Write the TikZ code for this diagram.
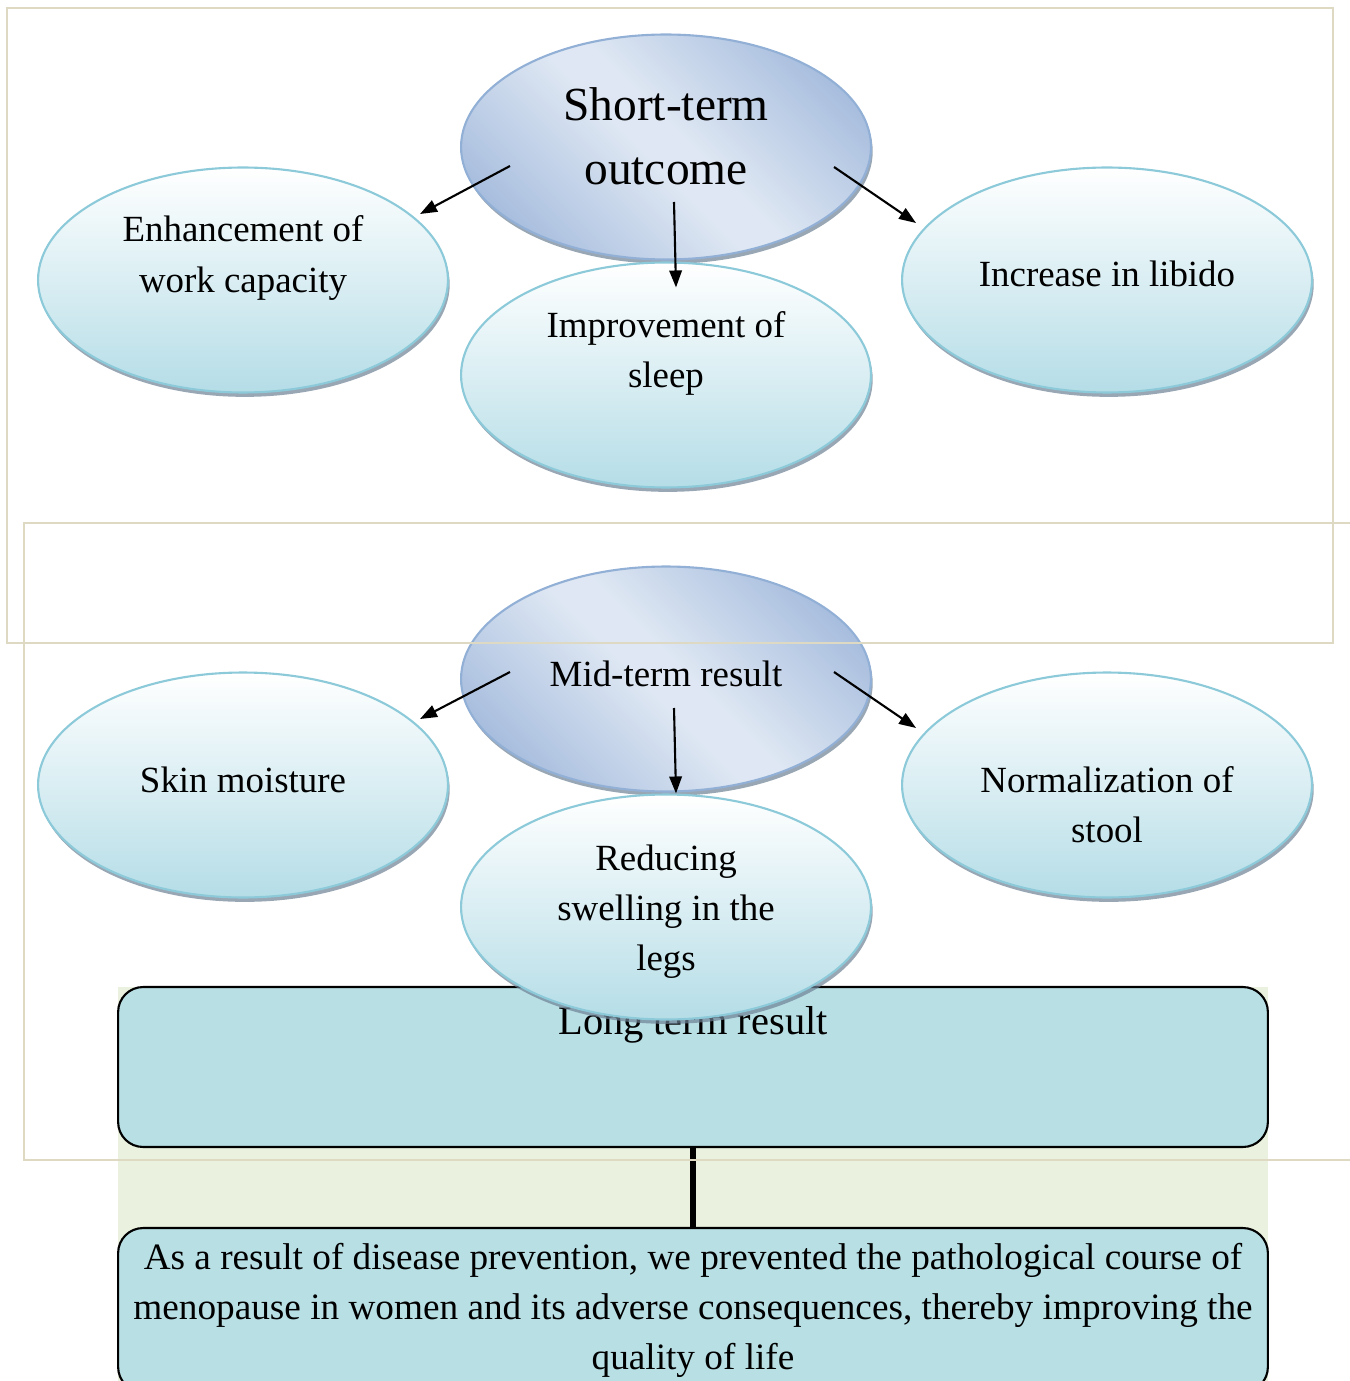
\documentclass[tikz,border=0pt]{standalone}
\usepackage{fontspec}
\setmainfont{Liberation Serif}
\usepackage{xcolor}
\usetikzlibrary{shapes.geometric,arrows.meta,shadows}
\definecolor{frameline}{RGB}{221,217,195}
\definecolor{lightgreen}{RGB}{234,241,222}
\definecolor{boxfill}{RGB}{184,223,228}
\definecolor{outdark}{RGB}{163,186,220}
\definecolor{outlight}{RGB}{222,231,243}
\definecolor{outline}{RGB}{146,176,214}
\definecolor{effectfill}{RGB}{181,221,231}
\definecolor{effectline}{RGB}{140,202,218}
\definecolor{shadowc}{RGB}{110,130,150}
\pgfdeclarehorizontalshading{outcomeshade}{100bp}{color(0bp)=(outdark); color(22bp)=(outdark); color(47bp)=(outlight); color(53bp)=(outlight); color(78bp)=(outdark); color(100bp)=(outdark)}
\tikzstyle{arrow} = [
    line width=1.2pt,
    -{Triangle[length=3.4mm,width=2.5mm]},
    draw=black
]
\tikzstyle{outcome} = [
    ellipse,
    minimum width=8.2cm,
    minimum height=4.5cm,
    draw=outline,
    line width=1.2pt,
    shading=outcomeshade,
    shading angle=45,
    drop shadow={shadow xshift=1pt, shadow yshift=-2.5pt, fill=shadowc, opacity=0.7}
]
\tikzstyle{effect} = [
    ellipse,
    minimum width=8.2cm,
    minimum height=4.5cm,
    draw=effectline,
    line width=1.2pt,
    top color=white,
    bottom color=effectfill,
    drop shadow={shadow xshift=1pt, shadow yshift=-2.5pt, fill=shadowc, opacity=0.7}
]
\tikzstyle{resultbox} = [
    rectangle,
    rounded corners=5mm,
    minimum width=23cm,
    draw=black,
    line width=1.2pt,
    fill=boxfill,
    align=center,
    font=\fontsize{21.2}{28.5}\selectfont
]
\tikzstyle{txt} = [
    align=center,
    font=\fontsize{21}{28.5}\selectfont
]
\tikzstyle{frame} = [
    draw=frameline,
    line width=1.1pt
]

\begin{document}
\begin{tikzpicture}[x=0.02cm,y=-0.02cm]
    \useasboundingbox (0,0) rectangle (1349,1381);

    % Long term part
    \fill[lightgreen] (118,987) rectangle (1268,1381);
    \node[resultbox, minimum height=3.2cm] (longbox) at (693,1067) {};
    \node[txt, font=\fontsize{23}{28.5}\selectfont] (long-t) at (693,1025) {Long term result};
    \node[resultbox, minimum height=3.28cm] (final) at (693,1310)
        {As a result of disease prevention, we prevented the pathological course of\\
         menopause in women and its adverse consequences, thereby improving the\\
         quality of life};
    \draw[line width=3pt] (longbox) -- (final);

    % Short term ellipses
    \node[outcome] (short) at (666,147) {};
    \node[effect] (enh) at (243,280) {};
    \node[effect] (sleep) at (666,375) {};
    \node[effect] (libido) at (1107,280) {};

    % Mid term ellipses
    \node[outcome] (mid) at (666,679) {};
    \node[effect] (skin) at (243,785) {};
    \node[effect] (norm) at (1107,785) {};
    \node[effect] (legs) at (666,907) {};

    % Labels
    \node[txt, font=\fontsize{27}{36.4}\selectfont] (short-t) at (666,136) {Short-term\\ outcome};
    \node[txt] (enh-t) at (243,258) {Enhancement of\\ work capacity};
    \node[txt] (sleep-t) at (666,353) {Improvement of\\ sleep};
    \node[txt] (libido-t) at (1107,274) {Increase in libido};
    \node[txt] (mid-t) at (666,674) {Mid-term result};
    \node[txt] (skin-t) at (243,780) {Skin moisture};
    \node[txt] (norm-t) at (1107,805) {Normalization of\\ stool};
    \node[txt] (legs-t) at (666,912) {Reducing\\ swelling in the\\ legs};

    % Arrows
    \draw[arrow] ([shift={(50,19)}]short.west) -- ([shift={(177,-66)}]enh.center);
    \draw[arrow] ([shift={(8,55)}]short.center) -- ([shift={(10,26)}]sleep.north);
    \draw[arrow] ([shift={(-38,20)}]short.east) -- ([shift={(-191,-57)}]libido.center);
    \draw[arrow] ([shift={(50,-7)}]mid.west) -- ([shift={(177,-66)}]skin.center);
    \draw[arrow] ([shift={(8,29)}]mid.center) -- ([shift={(10,0)}]legs.north);
    \draw[arrow] ([shift={(-38,-7)}]mid.east) -- ([shift={(-191,-57)}]norm.center);

    % Frames
    \draw[frame] (7,8) rectangle (1333,643);
    \draw[frame] (24,523) rectangle (1370,1160);
\end{tikzpicture}
\end{document}
